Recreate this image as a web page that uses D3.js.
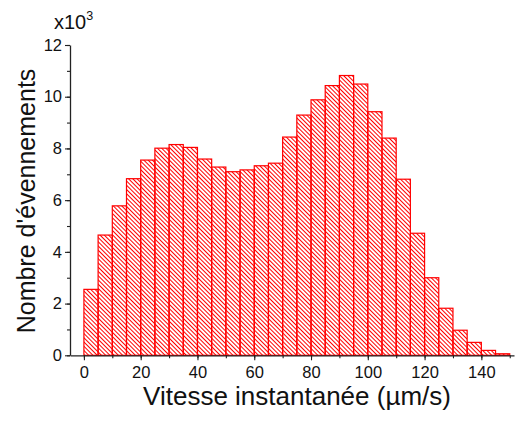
<!DOCTYPE html>
<html><head><meta charset="utf-8">
<script src="https://cdn.jsdelivr.net/npm/d3@7"></script>
<style>body{margin:0;background:#fff}text{font-family:"Liberation Sans",Arial,sans-serif}</style>
</head><body>
<script>
const binStarts = [0,5,10,15,20,25,30,35,40,45,50,55,60,65,70,75,80,85,90,95,100,105,110,115,120,125,130,135,140,145];
const counts = [2.55,4.65,5.78,6.83,7.55,8.01,8.15,8.04,7.59,7.28,7.10,7.17,7.33,7.43,8.44,9.29,9.88,10.43,10.82,10.49,9.42,8.40,6.81,4.72,3.00,1.82,0.97,0.50,0.19,0.06];
const binWidth = 5;
const xTicks = [0,20,40,60,80,100,120,140];
const yTicks = [0,2,4,6,8,10,12];

const W=518,H=422;
const svg=d3.select("body").append("svg").attr("width",W).attr("height",H);
const x=d3.scaleLinear().domain([-4.9,151.5]).range([70,514]);
const y=d3.scaleLinear().domain([0,12]).range([355.3,45]);

const defs=svg.append("defs");
const pat=defs.append("pattern").attr("id","hatch").attr("patternUnits","userSpaceOnUse")
  .attr("width",3).attr("height",3).attr("patternTransform","rotate(-45)");
pat.append("line").attr("x1",0.5).attr("y1",0).attr("x2",0.5).attr("y2",3)
  .attr("stroke","#ff0000").attr("stroke-width",1);

svg.append("g").selectAll("rect").data(counts).join("rect")
  .attr("x",(d,i)=>x(binStarts[i]))
  .attr("width",(d,i)=>x(binStarts[i]+binWidth)-x(binStarts[i]))
  .attr("y",d=>y(d))
  .attr("height",d=>y(0)-y(d))
  .attr("fill","url(#hatch)")
  .attr("stroke","#ff0000").attr("stroke-width",1.2);

const axisColor="#222";
// x axis
const xMinor=d3.range(0,151,10);
const gx=svg.append("g").attr("transform",`translate(0,${y(0)})`);
gx.call(d3.axisBottom(x).tickValues(xMinor).tickSize(3).tickFormat(""));
gx.call(g=>g.select(".domain").remove());
const gx2=svg.append("g").attr("transform",`translate(0,${y(0)})`);
gx2.call(d3.axisBottom(x).tickValues(xTicks).tickSize(5).tickSizeOuter(0).tickPadding(4));
gx2.selectAll("text").attr("font-size",16.5).attr("fill","#111").attr("dy","0.85em");

// y axis
const yMinor=d3.range(0,12.01,1);
const gy=svg.append("g").attr("transform",`translate(${x.range()[0]},0)`);
gy.call(d3.axisLeft(y).tickValues(yMinor).tickSize(3).tickFormat(""));
gy.call(g=>g.select(".domain").remove());
const gy2=svg.append("g").attr("transform",`translate(${x.range()[0]},0)`);
gy2.call(d3.axisLeft(y).tickValues(yTicks).tickSize(5).tickSizeOuter(0).tickPadding(3));
gy2.selectAll("text").attr("font-size",16.5).attr("fill","#111");
svg.selectAll(".domain").attr("stroke",axisColor).attr("stroke-width",1.3);
svg.selectAll(".tick line").attr("stroke",axisColor).attr("stroke-width",1.1);

// multiplier
const m=svg.append("text").attr("x",54).attr("y",29).attr("font-size",20).attr("fill","#111");
m.append("tspan").text("x10");
m.append("tspan").text("3").attr("font-size",12.5).attr("dy",-9);

svg.append("text").attr("x",297).attr("y",405).attr("text-anchor","middle")
  .attr("font-size",26).attr("fill","#111").text("Vitesse instantanée (µm/s)");
svg.append("text").attr("transform","translate(35,201) rotate(-90)").attr("text-anchor","middle")
  .attr("font-size",25).attr("fill","#111").text("Nombre d'évennements");
</script>
</body></html>
